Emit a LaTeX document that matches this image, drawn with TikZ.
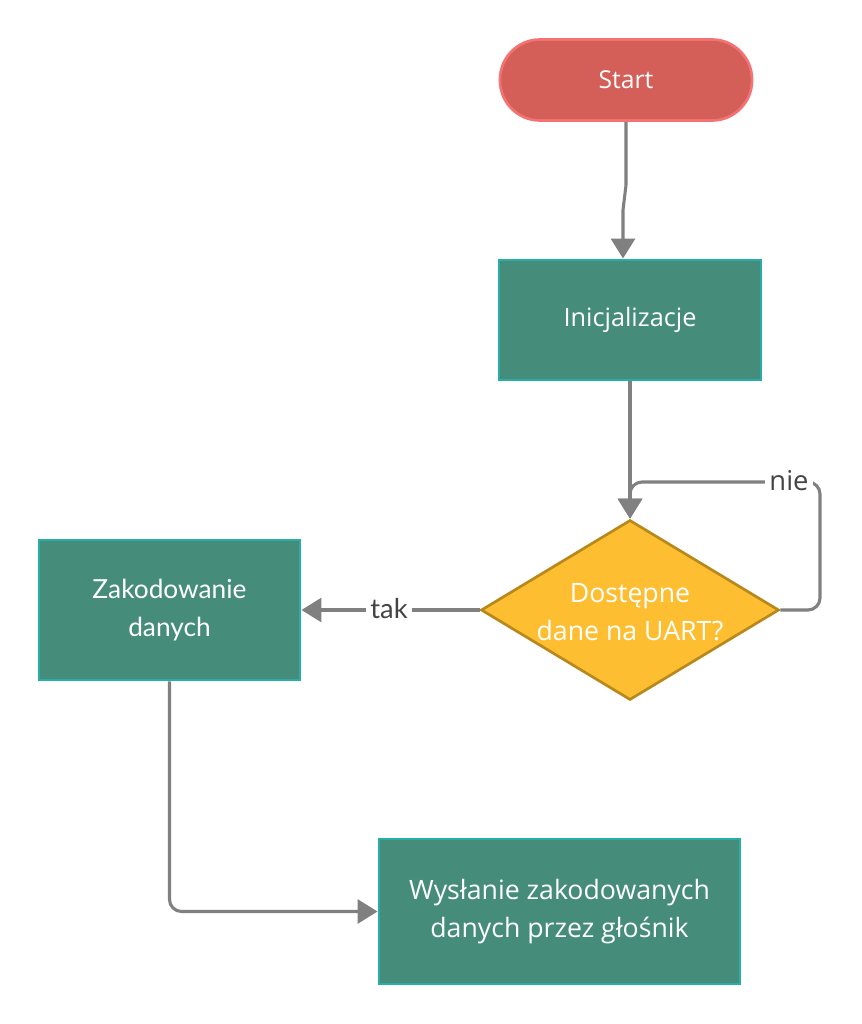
\documentclass[tikz,border=0pt]{standalone}
\usepackage{fontspec}
\setmainfont{Open Sans}
\newfontfamily\latofont{Lato}
\usetikzlibrary{shapes.geometric,arrows.meta,calc}
\definecolor{startfill}{HTML}{D35F58}
\definecolor{startline}{HTML}{F47272}
\definecolor{boxfill}{HTML}{458C7A}
\definecolor{boxline}{HTML}{27AEA7}
\definecolor{decfill}{HTML}{FDBE31}
\definecolor{decline}{HTML}{B8881B}
\definecolor{conncol}{HTML}{808080}
\definecolor{lblcol}{HTML}{444444}
\tikzset{
  x=0.75pt, y=-0.75pt,
  txt/.style={text=white, font=\fontsize{18.5}{28}\selectfont, align=center},
  startbox/.style={txt, draw=startline, fill=startfill, line width=2pt, rounded corners=30pt, minimum width=189pt, minimum height=60.75pt},
  procbox/.style={txt, draw=boxline, fill=boxfill, line width=2.2pt},
  decbox/.style={diamond, draw=decline, fill=decfill, line width=2pt, inner sep=0pt, minimum width=223.5pt, minimum height=135pt},
  conn/.style={draw=conncol, line width=2.3pt, rounded corners=9pt, -{Triangle[width=18pt,length=15pt]}},
  lbl/.style={fill=white, text=lblcol, font=\fontsize{20.5}{22}\selectfont, inner sep=3pt}
}
\begin{document}
\begin{tikzpicture}
\path[fill=white] (0,0) rectangle (861,1024);
\node[startbox] (start) at (626,80) {Start};
\node[procbox, minimum width=196.5pt, minimum height=90pt, font=\fontsize{19}{28}\selectfont] (init) at (630,320) {Inicjalizacje};
\node[decbox] (dec) at (630,610) {};
\node[txt, font=\fontsize{20}{28.5}\selectfont] (dectext) at (630,612) {Dostępne\\dane na UART?};
\node[procbox, minimum width=195.75pt, minimum height=105pt, font=\latofont\fontsize{19.7}{28}\selectfont] (zak) at (169.5,610) {Zakodowanie\\danych};
\node[procbox, minimum width=270.75pt, minimum height=108.75pt, font=\fontsize{20}{28}\selectfont] (wys) at (559.5,911.5) {Wysłanie zakodowanych\\danych przez głośnik};

\draw[conn, rounded corners=0pt] (start.south) -- (626,185) -- (623,210) -- ($(init.north)+(-7,0)$);
\draw[conn] (init.south) -- (dec.north);
\draw[conn] (dec.east) -- (820,610) -- (820,482) -- (630,482) -- (dec.north);
\node[lbl] (nie) at (789,481) {nie};
\draw[conn] (dec.west) -- (zak.east);
\node[lbl, font=\latofont\fontsize{20.5}{22}\selectfont] (tak) at (389,609) {tak};
\draw[conn] (zak.south) |- (wys.west);
\end{tikzpicture}
\end{document}
